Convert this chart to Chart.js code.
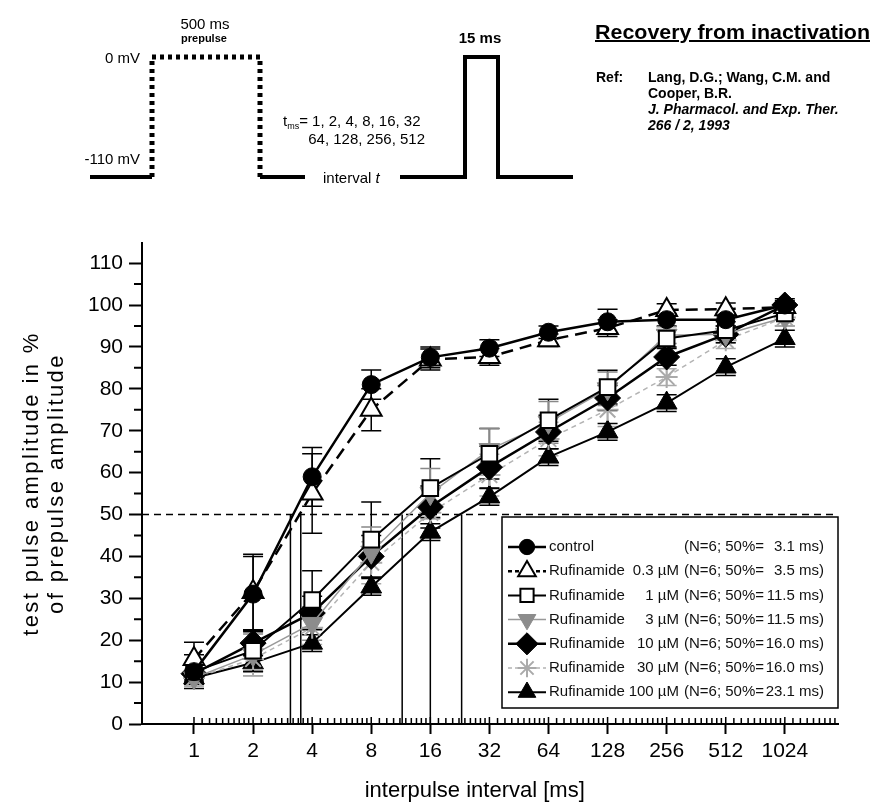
<!DOCTYPE html>
<html>
<head>
<meta charset="utf-8">
<script src="https://cdn.jsdelivr.net/npm/chart.js@4.4.0/dist/chart.umd.min.js"></script>
<style>
  body { margin: 0; background: #fff; }
  #wrap { position: relative; width: 871px; height: 804px; }
  #chart { position: absolute; left: 0; top: 0; }
  #proto { position: absolute; left: 0; top: 0; }
</style>
</head>
<body>
<div id="wrap">
  <canvas id="chart" width="871" height="804"></canvas>
  <svg id="proto" width="871" height="210" font-family="'Liberation Sans', Arial, sans-serif">
    <g stroke="#000" fill="none" stroke-width="4">
      <line x1="90" y1="177" x2="152" y2="177"/>
      <polyline points="152,177 152,57 260,57 260,177" stroke-dasharray="4 4" stroke-width="5"/>
      <line x1="260" y1="177" x2="305" y2="177"/>
      <polyline points="400,177 465,177 465,57 498,57 498,177 573,177"/>
    </g>
    <g fill="#000">
      <text x="140" y="63" text-anchor="end" font-size="15">0 mV</text>
      <text x="140" y="164" text-anchor="end" font-size="15">-110 mV</text>
      <text x="205" y="29" text-anchor="middle" font-size="15">500 ms</text>
      <text x="204" y="42" text-anchor="middle" font-size="11" font-weight="bold">prepulse</text>
      <text x="283" y="126" font-size="15">t<tspan font-size="9" dy="3">ms</tspan><tspan dy="-3">= 1, 2, 4, 8, 16, 32</tspan></text>
      <text x="425" y="144" text-anchor="end" font-size="15">64, 128, 256, 512</text>
      <text x="323" y="183" font-size="15">interval <tspan font-style="italic">t</tspan></text>
      <text x="480" y="43" text-anchor="middle" font-size="15" font-weight="bold">15 ms</text>
      <text x="595" y="39" font-size="20" font-weight="bold" text-decoration="underline" textLength="275" lengthAdjust="spacingAndGlyphs">Recovery from inactivation</text>
      <text x="596" y="82" font-size="14" font-weight="bold">Ref:</text>
      <text x="648" y="82" font-size="14" font-weight="bold">Lang, D.G.; Wang, C.M. and</text>
      <text x="648" y="98" font-size="14" font-weight="bold">Cooper, B.R.</text>
      <text x="648" y="114" font-size="14" font-weight="bold" font-style="italic">J. Pharmacol. and Exp. Ther.</text>
      <text x="648" y="130" font-size="14" font-weight="bold" font-style="italic">266 / 2, 1993</text>
    </g>
  </svg>
</div>
<script>
  // interpulse intervals (ms), plotted on a log2 axis
  var intervals = [1, 2, 4, 8, 16, 32, 64, 128, 256, 512, 1024];
  var yTicks = [0, 10, 20, 30, 40, 50, 60, 70, 80, 90, 100, 110];
  var yMinorTicks = [5, 15, 25, 35, 45, 55, 65, 75, 85, 95, 105];

  // mean test pulse amplitude (% of prepulse) and error bars
  var control   = [12.5, 31, 59, 81, 87.5, 89.7, 93.5, 96, 96.5, 96.5, 100];
  var controlErr = [4, 9, 7, 3.5, 2.5, 2, 1.5, 3, 1.5, 1.5, 1.5];
  var rufi03    = [15.5, 31.5, 55, 75, 87, 87.6, 91.6, 94.5, 98.8, 99, 99.5];
  var rufi03Err = [4, 9, 9.5, 5, 2.5, 2, 1.5, 2, 1.5, 1.5, 1];
  var rufi1     = [12.5, 17.5, 29.6, 44, 56.3, 64.5, 72.5, 80.4, 92, 94, 98];
  var rufi1Err  = [2, 5, 7, 9, 7, 6, 5, 4, 2, 2, 1.5];
  var rufi3     = [11, 16.5, 24, 41, 55, 65.5, 72, 80, 92.8, 93, 97];
  var rufi3Err  = [2, 5, 4, 6, 6, 5, 5, 4, 2, 2, 2];
  var rufi10    = [12, 19.3, 26.5, 40, 51.8, 61.3, 69.7, 77.8, 87.6, 93, 100];
  var rufi10Err = [2, 3, 4, 5, 5, 5, 4, 3, 2, 2, 1];
  var rufi30    = [11, 15.5, 23, 38.5, 50.4, 59.4, 68, 75, 82.8, 91.6, 97];
  var rufi30Err = [2, 4, 4, 5, 6, 5, 4, 4, 2, 2, 2];
  var rufi100   = [11, 14.6, 19.3, 32.7, 45.8, 54.2, 63.7, 69.7, 76.6, 85.2, 92];
  var rufi100Err = [1.5, 2, 2, 2, 2, 2, 2, 2, 2, 2, 2];

  var seriesNames = ['control', 'Rufinamide', 'Rufinamide', 'Rufinamide', 'Rufinamide', 'Rufinamide', 'Rufinamide'];
  var concLabels = ['', '0.3 µM', '1 µM', '3 µM', '10 µM', '30 µM', '100 µM'];
  var halfTimes = [3.1, 3.5, 11.5, 11.5, 16.0, 16.0, 23.1];
  var halfLevel = 50;
  var yTitle = ['test pulse amplitude in %', 'of prepulse amplitude'];
  var xTitle = 'interpulse interval [ms]';

  var values = [control, rufi03, rufi1, rufi3, rufi10, rufi30, rufi100];
  var errors = [controlErr, rufi03Err, rufi1Err, rufi3Err, rufi10Err, rufi30Err, rufi100Err];

  // axis range in log2 units
  var xMin = -0.88, xMax = 10.9, yMax = 114.8;

  var styles = [
    { point: 'circle',   rot: 0,   r: 9,  fill: '#000', border: '#000', bw: 1, line: '#000', width: 2.5, dash: [] },
    { point: 'triangle', rot: 0,   r: 12, fill: '#fff', border: '#000', bw: 2, line: '#000', width: 2.5, dash: [12, 7] },
    { point: 'rect',     rot: 0,   r: 11, fill: '#fff', border: '#000', bw: 2, line: '#000', width: 2,   dash: [] },
    { point: 'triangle', rot: 180, r: 12, fill: '#8c8c8c', border: '#8c8c8c', bw: 1, line: '#999', width: 1.5, dash: [] },
    { point: 'rectRot',  rot: 0,   r: 13, fill: '#000', border: '#000', bw: 1, line: '#000', width: 2.5, dash: [] },
    { point: 'star',     rot: 0,   r: 11, fill: '#aaa', border: '#aaa', bw: 2, line: '#b4b4b4', width: 1.5, dash: [5, 4] },
    { point: 'triangle', rot: 0,   r: 12, fill: '#000', border: '#000', bw: 1, line: '#000', width: 2,   dash: [] }
  ];
  var errColors = ['#000', '#000', '#000', '#888', '#000', '#aaa', '#000'];

  var fontFamily = "'Liberation Sans', Arial, sans-serif";
  Chart.defaults.font.family = fontFamily;
  Chart.defaults.color = '#000';

  function toPoints(vals) {
    return intervals.map(function (t, i) { return { x: Math.log2(t), y: vals[i] }; });
  }

  var datasets = values.map(function (vals, i) {
    var s = styles[i];
    return {
      label: seriesNames[i] + ' ' + concLabels[i],
      data: toPoints(vals),
      borderColor: s.line,
      borderWidth: s.width,
      borderDash: s.dash,
      pointStyle: s.point,
      pointRotation: s.rot,
      pointRadius: s.r,
      pointBackgroundColor: s.fill,
      pointBorderColor: s.border,
      pointBorderWidth: s.bw,
      tension: 0,
      fill: false,
      order: i
    };
  });

  // 50 % reference line and the vertical drops at each half time
  var uniqueHalf = halfTimes.filter(function (v, i) { return halfTimes.indexOf(v) === i; });
  var dropPts = [];
  uniqueHalf.forEach(function (t) {
    dropPts.push({ x: Math.log2(t), y: 0 });
    dropPts.push({ x: Math.log2(t), y: halfLevel });
    dropPts.push({ x: Math.log2(t), y: null });
  });
  datasets.push({
    data: [{ x: xMin, y: halfLevel }, { x: xMax, y: halfLevel }],
    borderColor: '#000', borderWidth: 1.5, borderDash: [7, 5], pointRadius: 0, order: 20
  });
  datasets.push({
    data: dropPts, borderColor: '#000', borderWidth: 1.5, pointRadius: 0, spanGaps: false, order: 21
  });

  var errorBars = {
    id: 'errorBars',
    beforeDatasetsDraw: function (chart) {
      var ctx = chart.ctx, xs = chart.scales.x, ys = chart.scales.y;
      ctx.save();
      ctx.lineWidth = 1.5;
      values.forEach(function (vals, d) {
        ctx.strokeStyle = errColors[d];
        vals.forEach(function (v, i) {
          var x = xs.getPixelForValue(Math.log2(intervals[i]));
          var y1 = ys.getPixelForValue(v + errors[d][i]);
          var y2 = ys.getPixelForValue(v - errors[d][i]);
          ctx.beginPath();
          ctx.moveTo(x, y1); ctx.lineTo(x, y2);
          ctx.moveTo(x - 10, y1); ctx.lineTo(x + 10, y1);
          ctx.moveTo(x - 10, y2); ctx.lineTo(x + 10, y2);
          ctx.stroke();
        });
      });
      ctx.restore();
    }
  };

  var minorTicks = {
    id: 'minorTicks',
    afterDraw: function (chart) {
      var ctx = chart.ctx, xs = chart.scales.x, ys = chart.scales.y;
      var a = chart.chartArea;
      ctx.save();
      ctx.strokeStyle = '#000';
      ctx.lineWidth = 1.5;
      ctx.beginPath();
      intervals.forEach(function (t) {
        var x = xs.getPixelForValue(Math.log2(t));
        ctx.moveTo(x, a.bottom); ctx.lineTo(x, a.bottom - 7);
        for (var m = 1.1; m < 1.95; m += 0.1) {
          var v = Math.log2(t * m);
          if (v > xMax) break;
          var xm = xs.getPixelForValue(v);
          ctx.moveTo(xm, a.bottom); ctx.lineTo(xm, a.bottom - 6);
        }
      });
      ctx.stroke();
      ctx.lineWidth = 2;
      ctx.beginPath();
      yMinorTicks.forEach(function (v) {
        var y = ys.getPixelForValue(v);
        ctx.moveTo(a.left, y); ctx.lineTo(a.left - 8, y);
      });
      ctx.stroke();

      // y axis title, two lines, letter-spaced like the original
      ctx.fillStyle = '#000';
      ctx.font = '22px ' + fontFamily;
      ctx.textAlign = 'center';
      ctx.textBaseline = 'middle';
      if ('letterSpacing' in ctx) ctx.letterSpacing = '2.4px';
      var cy = (a.top + a.bottom) / 2;
      yTitle.forEach(function (line, i) {
        ctx.save();
        ctx.translate(32 + i * 25, cy);
        ctx.rotate(-Math.PI / 2);
        ctx.fillText(line, 0, 0);
        ctx.restore();
      });
      ctx.restore();
    }
  };

  var boxLegend = {
    id: 'boxLegend',
    afterDraw: function (chart) {
      var ctx = chart.ctx, a = chart.chartArea;
      var bx = 502, by = 517, bh = 191, bw = a.right - bx;
      ctx.save();
      ctx.fillStyle = '#fff';
      ctx.fillRect(bx, by, bw, bh);
      ctx.strokeStyle = '#000';
      ctx.lineWidth = 1.5;
      ctx.strokeRect(bx, by, bw, bh);
      ctx.font = '15px ' + fontFamily;
      ctx.textBaseline = 'middle';
      values.forEach(function (vals, i) {
        var s = styles[i];
        var y = by + 30 + i * 24.2;
        ctx.strokeStyle = s.line;
        ctx.lineWidth = s.width;
        ctx.setLineDash(s.dash.length ? [4, 3] : []);
        ctx.beginPath();
        ctx.moveTo(508, y); ctx.lineTo(546, y);
        ctx.stroke();
        ctx.setLineDash([]);
        ctx.fillStyle = s.fill;
        ctx.strokeStyle = s.border;
        ctx.lineWidth = s.bw;
        Chart.helpers.drawPoint(ctx, { pointStyle: s.point, rotation: s.rot, radius: s.r * 0.85, borderWidth: s.bw }, 527, y);
        ctx.fillStyle = '#111';
        ctx.textAlign = 'left';
        ctx.fillText(seriesNames[i], 549, y);
        ctx.textAlign = 'right';
        ctx.fillText(concLabels[i], 679, y);
        ctx.textAlign = 'left';
        ctx.fillText('(N=6; 50%=', 684, y);
        ctx.textAlign = 'right';
        ctx.fillText(halfTimes[i].toFixed(1) + ' ms)', 824, y);
      });
      ctx.restore();
    }
  };

  var chart = new Chart(document.getElementById('chart'), {
    type: 'line',
    data: { datasets: datasets },
    options: {
      responsive: false,
      animation: false,
      layout: { padding: { top: 243, right: 33, left: 0, bottom: 0 } },
      plugins: { legend: { display: false }, tooltip: { enabled: false } },
      scales: {
        x: {
          type: 'linear',
          min: xMin,
          max: xMax,
          afterBuildTicks: function (s) { s.ticks = intervals.map(function (t) { return { value: Math.log2(t) }; }); },
          afterFit: function (s) { s.height = 80; },
          ticks: {
            callback: function (v) { return String(Math.round(Math.pow(2, v))); },
            font: { size: 21 }, color: '#000', padding: 5, maxRotation: 0, autoSkip: false
          },
          grid: { display: true, drawOnChartArea: false, drawTicks: true, tickLength: 10, tickWidth: 2, tickColor: '#000' },
          border: { display: true, color: '#000', width: 2 },
          // trailing spaces pull the centred title a little to the left, as in the original
          title: { display: true, text: xTitle + '\u00a0\u00a0\u00a0\u00a0\u00a0', font: { size: 22 }, color: '#000', padding: { top: 0, bottom: 0 } }
        },
        y: {
          min: 0,
          max: yMax,
          afterBuildTicks: function (s) { s.ticks = yTicks.map(function (v) { return { value: v }; }); },
          afterFit: function (s) { s.width = 142; },
          ticks: { font: { size: 21 }, color: '#000', padding: 6 },
          grid: { display: true, drawOnChartArea: false, drawTicks: true, tickLength: 13, tickWidth: 2, tickColor: '#000' },
          border: { display: true, color: '#000', width: 2 },
          title: { display: false }
        }
      }
    },
    plugins: [errorBars, minorTicks, boxLegend]
  });
</script>
</body>
</html>
